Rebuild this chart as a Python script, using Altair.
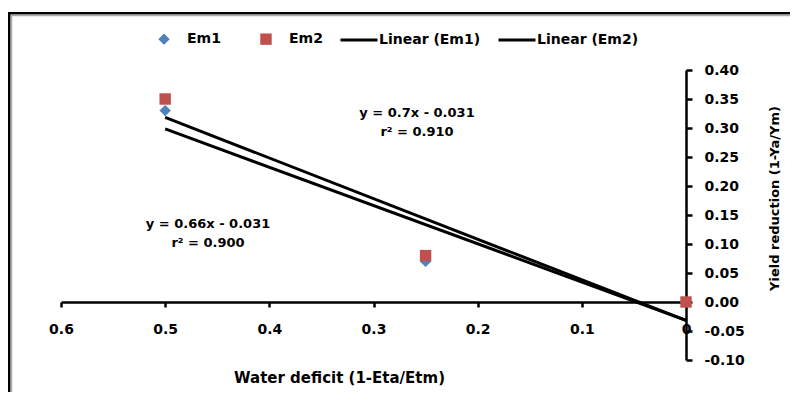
import altair as alt
import pandas as pd

# ---- data ----
deficit = [0.5, 0.25, 0.0]
em1 = [0.33, 0.07, 0.0]
em2 = [0.35, 0.08, 0.0]
series_names = ["Em1", "Em2"]
line_names = ["Linear (Em1)", "Linear (Em2)"]
series_colors = ["#4F81BD", "#C0504D"]
series_shapes = ["diamond", "square"]
x_ticks = [0.6, 0.5, 0.4, 0.3, 0.2, 0.1, 0.0]
y_ticks = [-0.10, -0.05, 0.0, 0.05, 0.10, 0.15, 0.20, 0.25, 0.30, 0.35, 0.40]
eq_em2 = ["y = 0.7x - 0.031", "r\u00b2 = 0.910"]
eq_em1 = ["y = 0.66x - 0.031", "r\u00b2 = 0.900"]

df = pd.DataFrame({
    "x": deficit + deficit,
    "y": em1 + em2,
    "series": [series_names[0]] * len(em1) + [series_names[1]] * len(em2),
})
dummy = pd.DataFrame({"a": [0]})

FONT = "DejaVu Sans"

xscale = alt.Scale(domain=[0, 0.6], reverse=True, nice=False, zero=False)
yscale = alt.Scale(domain=[-0.1, 0.4], nice=False, zero=False)

xaxis = alt.Axis(values=x_ticks, format=".1~f", offset=-58, grid=False,
                 title="Water deficit (1-Eta/Etm)", titleX=278, titleY=75,
                 titleFontSize=15,
                 titleBaseline="middle", titleAlign="center", titleAnchor="start",
                 labelFlush=False, labelOverlap=False, labelPadding=15, tickSize=5)
yaxis = alt.Axis(orient="right", values=y_ticks, grid=False,
                 labelExpr="(datum.value < -0.0001 ? '-' : '') + format(abs(datum.value), '.2f')",
                 title="Yield reduction (1-Ya/Ym)", titleAngle=270, titleX=88, titleY=128,
                 titleBaseline="middle", titleAlign="center", titleAnchor="start",
                 labelFlush=False, labelOverlap=False, labelPadding=12, tickSize=6)

frame = alt.Chart(dummy).mark_rect(filled=False, stroke="black", strokeWidth=2.5).encode(
    x=alt.value(-51.75), x2=alt.value(800), y=alt.value(-56.75), y2=alt.value(420))
shadow = alt.Chart(dummy).mark_rect(filled=False, stroke="#aaaaaa", strokeWidth=1.5).encode(
    x=alt.value(-49.5), x2=alt.value(800), y=alt.value(-54.5), y2=alt.value(420))

lines = alt.Chart(df).transform_regression(
    "x", "y", groupby=["series"]
).transform_calculate(
    trend="'Linear (' + datum.series + ')'"
).mark_line(strokeWidth=3).encode(
    x=alt.X("x:Q", scale=xscale, axis=xaxis),
    y=alt.Y("y:Q", scale=yscale, axis=yaxis),
    stroke=alt.Stroke("trend:N", scale=alt.Scale(domain=line_names, range=["black", "black"]),
                      legend=alt.Legend(orient="none", legendX=278, legendY=-50,
                                        direction="horizontal", title=None,
                                        symbolType="stroke", symbolSize=1369,
                                        symbolStrokeWidth=3, labelOffset=0,
                                        columnPadding=11)),
)

pt_legend = alt.Legend(orient="none", legendX=96, legendY=-38, direction="horizontal",
                       title=None, symbolSize=130, labelOffset=16, columnPadding=36)
points = alt.Chart(df).mark_point(filled=True, size=130, opacity=1).encode(
    x=alt.X("x:Q", scale=xscale, axis=xaxis),
    y=alt.Y("y:Q", scale=yscale, axis=yaxis),
    fill=alt.Fill("series:N", scale=alt.Scale(domain=series_names, range=series_colors),
                  legend=pt_legend),
    shape=alt.Shape("series:N", scale=alt.Scale(domain=series_names, range=series_shapes),
                    legend=pt_legend),
)

txt_style = dict(font=FONT, fontSize=13, fontWeight="bold", color="black",
                 align="center", baseline="middle", lineHeight=19)
ann2 = alt.Chart(dummy).mark_text(text=eq_em2, **txt_style).encode(
    x=alt.value(356), y=alt.value(43))
ann1 = alt.Chart(dummy).mark_text(text=eq_em1, **txt_style).encode(
    x=alt.value(147), y=alt.value(154))

chart = alt.layer(frame, shadow, lines, points, ann2, ann1).properties(
    width=625, height=290,
    autosize=alt.AutoSizeParams(type="none"),
    padding={"left": 53, "top": 62, "right": 104, "bottom": 32},
).configure_axis(
    domainColor="black", domainWidth=2.5, tickColor="black", tickWidth=2.5,
    labelFont=FONT, labelFontSize=14, labelFontWeight="bold", labelColor="black",
    titleFont=FONT, titleFontSize=13, titleFontWeight="bold", titleColor="black",
).configure_legend(
    labelFont=FONT, labelFontSize=14, labelFontWeight="bold", labelColor="black",
).configure_view(stroke="transparent")

chart.save("out.html", embed_options={"renderer": "svg", "actions": False})
